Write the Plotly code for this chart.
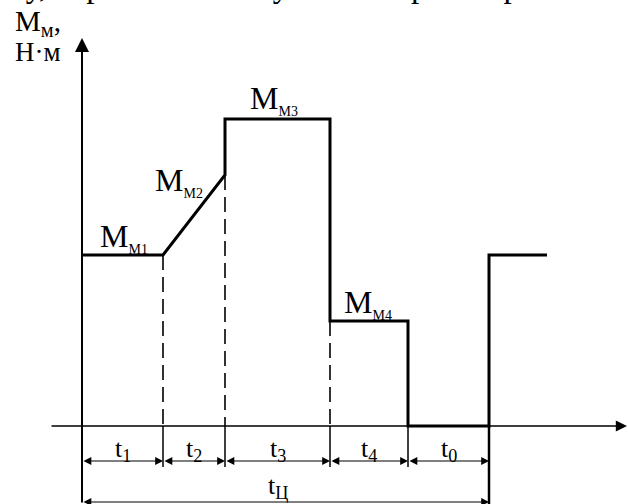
import plotly.graph_objects as go

# ---- data (arbitrary units) ----
seg_names = ["t<sub>1</sub>", "t<sub>2</sub>", "t<sub>3</sub>", "t<sub>4</sub>", "t<sub>0</sub>"]
seg_durations = [4.05, 3.1, 5.25, 3.9, 4.05]
tail_duration = 2.9
torque_names = ["М1", "М2", "М3", "М4"]
torque_values = [8.55, 12.55, 15.35, 5.25]
cycle_label = "t<sub>Ц</sub>"
x_axis_label = "t, с"
y_axis_label = ["M<sub>м</sub>,", "Н·м"]
header_text = "ому, коротко часному  и повторно-короткочасному"

# ---- derived ----
b = [0.0]
for d in seg_durations:
    b.append(b[-1] + d)
b.append(b[-1] + tail_duration)
M1, M2, M3, M4 = torque_values

prof_x = [b[0], b[1], b[2], b[2], b[3], b[3], b[4], b[4], b[5], b[5], b[6]]
prof_y = [M1, M1, M2, M3, M3, M4, M4, 0, 0, M1, M1]

XR = [-4.1, 27.3]
YR = [-3.9, 21.3]
SERIF = "Liberation Serif"

fig = go.Figure()

# load profile
fig.add_trace(go.Scatter(x=prof_x, y=prof_y, mode="lines",
                         line=dict(color="black", width=3), hoverinfo="skip"))

# dashed projections
for xb, yb in [(b[1], M1), (b[2], M2), (b[3], M4)]:
    fig.add_trace(go.Scatter(x=[xb, xb], y=[yb, 0], mode="lines",
                             line=dict(color="black", width=1.6, dash="15px,7px"),
                             hoverinfo="skip"))

# extension lines below axis
for xb in [b[1], b[2], b[3], b[4]]:
    fig.add_trace(go.Scatter(x=[xb, xb], y=[0, -2.05], mode="lines",
                             line=dict(color="black", width=1.5), hoverinfo="skip"))
fig.add_trace(go.Scatter(x=[b[5], b[5]], y=[0, YR[0]], mode="lines",
                         line=dict(color="black", width=2.5), hoverinfo="skip"))

ann = []
# axes with arrows
ann.append(dict(x=0, y=19.4, ax=0, ay=YR[0], xref="x", yref="y", axref="x", ayref="y",
                text="", showarrow=True, arrowhead=2, arrowsize=1.4, arrowwidth=2, arrowcolor="black"))
ann.append(dict(x=27.25, y=0, ax=-1.6, ay=0, xref="x", yref="y", axref="x", ayref="y",
                text="", showarrow=True, arrowhead=2, arrowsize=1.4, arrowwidth=1.6, arrowcolor="black"))

# dimension arrows
for i in range(5):
    ann.append(dict(x=b[i + 1], y=-1.75, ax=b[i], ay=-1.75, xref="x", yref="y", axref="x", ayref="y",
                    text="", showarrow=True, arrowhead=2, startarrowhead=2, arrowside="end+start",
                    arrowsize=1.3, startarrowsize=1.3, arrowwidth=1.2, arrowcolor="black"))
    ann.append(dict(x=(b[i] + b[i + 1]) / 2, y=-1.2, xref="x", yref="y", text=seg_names[i],
                    showarrow=False, font=dict(family=SERIF, size=26, color="black"),
                    xanchor="center", yanchor="middle"))
ann.append(dict(x=b[5], y=-3.8, ax=b[0], ay=-3.8, xref="x", yref="y", axref="x", ayref="y",
                text="", showarrow=True, arrowhead=2, startarrowhead=2, arrowside="end+start",
                arrowsize=1.3, startarrowsize=1.3, arrowwidth=1.2, arrowcolor="black"))
ann.append(dict(x=9.8, y=-3.05, xref="x", yref="y", text=cycle_label, showarrow=False,
                font=dict(family=SERIF, size=26, color="black"), xanchor="center", yanchor="middle"))
ann.append(dict(x=27.35, y=-1.15, xref="x", yref="y", text=x_axis_label, showarrow=False,
                font=dict(family=SERIF, size=23, color="black"), xanchor="right", yanchor="middle"))

# torque labels
lab_pos = [(0.8, 9.45), (3.55, 12.25), (8.3, 16.35), (13.0, 6.15)]
for (lx, ly), nm in zip(lab_pos, torque_names):
    ann.append(dict(x=lx, y=ly, xref="x", yref="y", showarrow=False,
                    text="M<sub><span style='font-size:14px'>" + nm + "</span></sub>",
                    font=dict(family=SERIF, size=32, color="black"),
                    xanchor="left", yanchor="middle"))

# y axis label
ann.append(dict(x=-3.45, y=20.15, xref="x", yref="y", showarrow=False, text=y_axis_label[0],
                font=dict(family=SERIF, size=29, color="black"), xanchor="left", yanchor="middle"))
ann.append(dict(x=-3.45, y=18.7, xref="x", yref="y", showarrow=False, text=y_axis_label[1],
                font=dict(family=SERIF, size=27, color="black"), xanchor="left", yanchor="middle"))

# clipped header text of the scanned page
ann.append(dict(x=-0.02, y=0.988, xref="paper", yref="paper", showarrow=False, text=header_text,
                font=dict(family=SERIF, size=33, color="black"), xanchor="left", yanchor="bottom"))

fig.update_layout(
    width=628, height=504, margin=dict(l=0, r=0, t=0, b=0),
    paper_bgcolor="white", plot_bgcolor="white", showlegend=False,
    xaxis=dict(range=XR, visible=False, fixedrange=True),
    yaxis=dict(range=YR, visible=False, fixedrange=True),
    annotations=ann,
)
fig.write_html("out.html", config={"displayModeBar": False},
               post_script="document.body.style.margin='0';document.body.style.overflow='hidden';")
